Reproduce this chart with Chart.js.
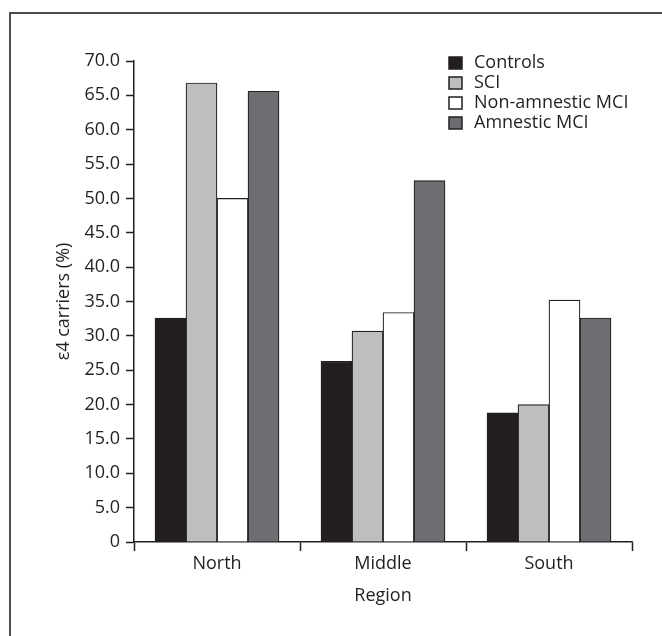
<!DOCTYPE html>
<html>
<head>
<meta charset="utf-8">
<script src="https://cdn.jsdelivr.net/npm/chart.js@4/dist/chart.umd.min.js"></script>
<style>
  html, body { margin: 0; padding: 0; background: #fff; }
  #wrap { position: relative; width: 662px; height: 636px; overflow: hidden; }
  #frame {
    position: absolute; left: 9px; top: 12px; width: 700px; height: 700px;
    border-left: 2px solid #4d4d4f; border-top: 2px solid #4d4d4f;
  }
  #chart { position: absolute; left: 0; top: 0; }
</style>
</head>
<body>
<div id="wrap">
  <div id="frame"></div>
  <canvas id="chart" width="662" height="636"></canvas>
</div>
<script>
// Data
const regions = ['North', 'Middle', 'South'];
const groupNames = ['Controls', 'SCI', 'Non-amnestic MCI', 'Amnestic MCI'];
const controls = [32.6, 26.3, 18.8];
const sci = [66.8, 30.7, 20.0];
const nonAmnestic = [50.0, 33.4, 35.2];
const amnestic = [65.6, 52.6, 32.6];
const yTicks = [0, 5, 10, 15, 20, 25, 30, 35, 40, 45, 50, 55, 60, 65, 70];

// Colors
const ink = '#231f20';
const fills = ['#231f20', '#bcbec0', '#ffffff', '#6d6e71'];
const font = { family: 'Open Sans', size: 18 };

const seriesValues = [controls, sci, nonAmnestic, amnestic];

// Legend drawn inside the plot, top right
const boxLegend = {
  id: 'boxLegend',
  afterDraw(chart) {
    const ctx = chart.ctx;
    ctx.save();
    ctx.font = `${font.size}px ${font.family}`;
    ctx.textBaseline = 'middle';
    chart.data.datasets.forEach((ds, i) => {
      const y = 63 + i * 20;
      ctx.fillStyle = ds.backgroundColor;
      ctx.fillRect(449, y - 6, 13, 12);
      ctx.strokeStyle = ink;
      ctx.lineWidth = 1.5;
      ctx.strokeRect(449, y - 6, 13, 12);
      ctx.fillStyle = ink;
      ctx.fillText(ds.label, 474, y);
    });
    ctx.restore();
  }
};

new Chart(document.getElementById('chart'), {
  type: 'bar',
  data: {
    labels: regions,
    datasets: groupNames.map((name, i) => ({
      label: name,
      data: seriesValues[i],
      backgroundColor: fills[i],
      borderColor: ink,
      borderWidth: 1.2,
      barThickness: 31
    }))
  },
  options: {
    responsive: false,
    animation: false,
    layout: { padding: { left: 0, top: 61, right: 30, bottom: 0 } },
    scales: {
      x: {
        afterFit: (scale) => { scale.height = 94; },
        border: { color: ink, width: 1.5 },
        grid: { drawOnChartArea: false, drawTicks: true, tickLength: 9, tickColor: ink, tickWidth: 1.5, offset: true },
        ticks: { color: ink, font: font, padding: 2 },
        title: { display: true, text: 'Region', color: ink, font: font, padding: { top: 0, bottom: 29 } }
      },
      y: {
        min: 0,
        max: 70,
        afterFit: (scale) => { scale.width = 134; },
        afterBuildTicks: (scale) => { scale.ticks = yTicks.map(v => ({ value: v })); },
        border: { color: ink, width: 1.5 },
        grid: { drawOnChartArea: false, drawTicks: true, tickLength: 8, tickColor: ink, tickWidth: 1.5 },
        ticks: {
          color: ink, font: font, padding: 6,
          callback: (v) => v === 0 ? '0' : v.toFixed(1)
        },
        title: { display: true, text: 'ε4 carriers (%)', color: ink, font: font, padding: { top: 53, bottom: 0 } }
      }
    },
    plugins: {
      legend: { display: false },
      tooltip: { enabled: false }
    }
  },
  plugins: [boxLegend]
});
</script>
</body>
</html>
